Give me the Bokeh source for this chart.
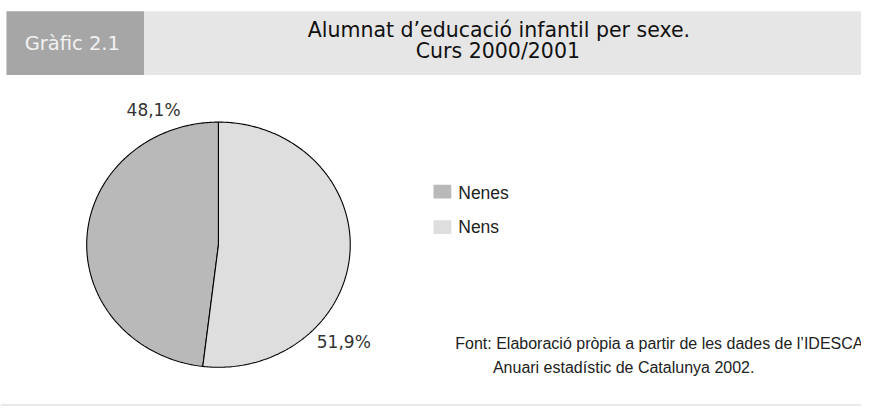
import numpy as np
from bokeh.plotting import figure
from bokeh.models import Range1d
from bokeh.core.properties import value
from bokeh.embed import file_html
from bokeh.resources import INLINE

# ---- data ----
categories = ["Nenes", "Nens"]
shares = [48.1, 51.9]
share_labels = ["48,1%", "51,9%"]
colors = ["#b9b9b9", "#dedede"]
title_lines = ["Alumnat d\u2019educació infantil per sexe.", "Curs 2000/2001"]
chart_tag = "Gràfic 2.1"
source_lines = ["Font: Elaboració pròpia a partir de les dades de l\u2019IDESCAT", "Anuari estadístic de Catalunya 2002."]

SANS = "'DejaVu Sans', sans-serif"
ARIAL = "'Liberation Sans', sans-serif"

# reference frame is 869 x 414; drawn into a figure that fits the window
REF_W, REF_H = 869, 414
W, H = 861, 406
p = figure(width=W, height=H, output_backend="svg", toolbar_location=None,
           x_range=Range1d(0, REF_W), y_range=Range1d(REF_H, 0),
           min_border=0, outline_line_color=None)
p.axis.visible = False
p.grid.visible = False
p.background_fill_color = "white"
p.border_fill_color = "white"

# header
p.quad(left=[6], right=[145], top=[11], bottom=[76], fill_color="#a6a6a6", line_color=None)
p.quad(left=[145], right=[REF_W], top=[11], bottom=[76], fill_color="#e6e6e6", line_color=None)
p.text(x=[72.5], y=[44], text=[chart_tag], text_font=value(SANS),
       text_font_size="19.5px", text_color="#f2f2f2", text_align="center", text_baseline="middle")
p.text(x=[503, 502], y=[30.5, 51], text=title_lines, text_font=value(SANS),
       text_font_size="20.5px", text_color="#111111", text_align="center", text_baseline="middle")

# pie (elliptical)
cx, cy, rx, ry = 220, 249, 133, 125
vals = np.array(shares, dtype=float)
fr = vals / vals.sum()
start = 0.0
xs, ys = [], []
for f in fr:
    a = np.linspace(start, start + f * 2 * np.pi, 240)
    px = cx - rx * np.sin(a)
    py = cy - ry * np.cos(a)
    xs.append([cx] + list(px) + [cx])
    ys.append([cy] + list(py) + [cy])
    start += f * 2 * np.pi
p.patches(xs=xs, ys=ys, fill_color=colors, line_color="black", line_width=1.1)

# pie labels
p.text(x=[154.5, 346.5], y=[112, 348.5], text=share_labels, text_font=value(SANS),
       text_font_size="17px", text_color="#333333", text_align="center", text_baseline="middle")

# legend
leg_y = [195, 231]
p.rect(x=[446, 446], y=leg_y, width=18, height=14, fill_color=colors, line_color=None)
p.text(x=[462, 462], y=[196, 231], text=categories, text_font=value(ARIAL),
       text_font_size="17.5px", text_color="#222222", text_align="left", text_baseline="middle")

# source
p.text(x=[459, 497], y=[349.5, 374], text=source_lines, text_font=value(ARIAL),
       text_font_size="16px", text_color="#222222", text_align="left", text_baseline="middle")

# bottom rule
p.segment(x0=[0], x1=[REF_W], y0=[412.5], y1=[412.5], line_color="#e2e2e2", line_width=1.5)

open("out.html", "w").write(file_html(p, INLINE))
